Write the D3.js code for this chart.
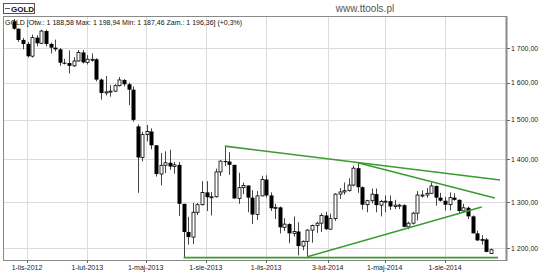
<!DOCTYPE html>
<html>
<head>
<meta charset="utf-8">
<script src="https://cdn.jsdelivr.net/npm/d3@7"></script>
<style>
  body { margin: 0; background: #fff; }
  text { font-family: "Liberation Sans", Arial, sans-serif; }
</style>
</head>
<body>
<svg id="chart"></svg>
<script>
// weekly candles, dated by the friday of each week
const dates = [
  "2012-10-12","2012-10-19","2012-10-26","2012-11-02","2012-11-09","2012-11-16","2012-11-23","2012-11-30","2012-12-07","2012-12-14","2012-12-21","2012-12-28",
  "2013-01-04","2013-01-11","2013-01-18","2013-01-25","2013-02-01","2013-02-08","2013-02-15","2013-02-22","2013-03-01","2013-03-08","2013-03-15","2013-03-22","2013-03-29",
  "2013-04-05","2013-04-12","2013-04-19","2013-04-26","2013-05-03","2013-05-10","2013-05-17","2013-05-24","2013-05-31","2013-06-07","2013-06-14","2013-06-21","2013-06-28",
  "2013-07-05","2013-07-12","2013-07-19","2013-07-26","2013-08-02","2013-08-09","2013-08-16","2013-08-23","2013-08-30","2013-09-06","2013-09-13","2013-09-20","2013-09-27",
  "2013-10-04","2013-10-11","2013-10-18","2013-10-25","2013-11-01","2013-11-08","2013-11-15","2013-11-22","2013-11-29","2013-12-06","2013-12-13","2013-12-20","2013-12-27",
  "2014-01-03","2014-01-10","2014-01-17","2014-01-24","2014-01-31","2014-02-07","2014-02-14","2014-02-21","2014-02-28","2014-03-07","2014-03-14","2014-03-21","2014-03-28",
  "2014-04-04","2014-04-11","2014-04-18","2014-04-25","2014-05-02","2014-05-09","2014-05-16","2014-05-23","2014-05-30","2014-06-06","2014-06-13","2014-06-20","2014-06-27",
  "2014-07-04","2014-07-11","2014-07-18","2014-07-25","2014-08-01","2014-08-08","2014-08-15","2014-08-22","2014-08-29","2014-09-05","2014-09-12","2014-09-19","2014-09-26",
  "2014-10-03","2014-10-10"
];
const open = [
  1781,1758,1724,1712,1676,1731,1714,1751,1712,1701,1696,1657,
  1656,1648,1662,1687,1658,1667,1667,1609,1572,1575,1577,1592,1608,
  1596,1581,1483,1405,1462,1470,1435,1365,1386,1392,1383,1387,1296,
  1234,1223,1277,1294,1322,1311,1312,1370,1396,1395,1387,1308,1333,
  1338,1310,1272,1314,1352,1315,1286,1288,1244,1251,1231,1235,1204,
  1214,1238,1248,1253,1270,1240,1263,1318,1323,1326,1339,1379,1334,
  1294,1303,1318,1293,1301,1302,1290,1293,1293,1245,1253,1275,1316,
  1316,1320,1337,1310,1303,1294,1310,1305,1280,1287,1268,1231,1216,
  1218,1188.58
];
const high = [
  1788,1759,1730,1718,1740,1738,1755,1755,1716,1725,1700,1668,
  1693,1673,1694,1694,1679,1684,1670,1612,1619,1594,1596,1616,1610,
  1600,1590,1488,1469,1487,1478,1436,1416,1420,1424,1394,1394,1296,
  1267,1298,1298,1348,1348,1323,1378,1398,1433,1418,1387,1368,1345,
  1338,1327,1325,1361,1362,1322,1296,1290,1264,1253,1268,1255,1216,
  1240,1250,1256,1275,1278,1274,1320,1332,1345,1355,1385,1392,1336,
  1305,1331,1331,1305,1315,1315,1305,1296,1295,1256,1278,1325,1327,
  1332,1345,1338,1321,1312,1322,1320,1306,1296,1290,1270,1237,1227,
  1221,1198.94
];
const low = [
  1755,1718,1696,1672,1672,1705,1712,1705,1684,1690,1648,1652,
  1626,1645,1660,1655,1652,1660,1604,1554,1565,1562,1575,1590,1590,
  1539,1495,1321,1395,1445,1425,1359,1338,1367,1375,1366,1269,1180,
  1207,1208,1271,1292,1280,1270,1310,1360,1384,1363,1308,1296,1318,
  1277,1251,1260,1313,1310,1280,1262,1231,1236,1210,1224,1185,1195,
  1182,1211,1232,1234,1238,1239,1258,1307,1317,1324,1336,1321,1283,
  1277,1297,1277,1268,1277,1282,1284,1284,1244,1240,1250,1259,1310,
  1310,1319,1292,1301,1281,1281,1303,1273,1276,1262,1231,1215,1207,
  1191,1187.46
];
const close = [
  1758,1724,1712,1676,1731,1714,1751,1712,1701,1696,1657,1656,
  1648,1662,1687,1658,1667,1667,1609,1572,1575,1577,1592,1608,1596,
  1581,1500,1405,1462,1470,1435,1365,1386,1392,1383,1387,1296,1234,
  1223,1277,1294,1322,1311,1312,1370,1396,1395,1387,1308,1333,1338,
  1310,1272,1314,1352,1315,1286,1288,1244,1251,1231,1235,1204,1214,
  1238,1248,1253,1270,1240,1263,1318,1323,1326,1339,1379,1334,1294,
  1303,1318,1293,1301,1302,1290,1293,1293,1245,1253,1275,1316,1316,
  1320,1337,1310,1303,1294,1310,1305,1280,1287,1268,1231,1216,1218,
  1192,1196.36
];

const yTicks = [1200, 1300, 1400, 1500, 1600, 1700];
const xTickDates = ["2012-11-01","2013-02-01","2013-05-01","2013-08-01","2013-11-01","2014-02-03","2014-05-01","2014-08-01"];

// hand drawn trend lines: start [date, price] -> end [date, price]
const trendStart = [["2013-08-30",1433],["2014-03-21",1392],["2014-01-03",1182],["2013-06-28",1180]];
const trendEnd   = [["2014-10-24",1351],["2014-10-16",1309],["2014-09-26",1289],["2014-10-21",1180]];

const width = 550, height = 275;
const boxLeft = 3, boxRight = 506, boxTop = 16, boxBottom = 260;

const parse = d3.utcParse("%Y-%m-%d");
const plLocale = d3.utcFormat ? d3.timeFormatLocale({
  dateTime: "%A, %e %B %Y, %X", date: "%d.%m.%Y", time: "%H:%M:%S",
  periods: ["AM", "PM"],
  days: ["niedziela","poniedziałek","wtorek","środa","czwartek","piątek","sobota"],
  shortDays: ["niedz.","pon.","wt.","śr.","czw.","pt.","sob."],
  months: ["styczeń","luty","marzec","kwiecień","maj","czerwiec","lipiec","sierpień","wrzesień","październik","listopad","grudzień"],
  shortMonths: ["sty","lut","mar","kwi","maj","cze","lip","sie","wrz","paź","lis","gru"]
}) : null;
const fmtDate = plLocale.utcFormat("%-d-%b-%Y");
const numLocale = d3.formatLocale({decimal: ",", thousands: " ", grouping: [3], currency: ["", ""]});
const fmtNum = numLocale.format(",.2f");

const x = d3.scaleUtc()
  .domain([parse("2012-11-01"), parse("2014-08-01")])
  .range([27, 445]);
const y = d3.scaleLog()
  .domain([1200, 1700])
  .range([248, 48]);

const svg = d3.select('#chart')
  .attr('width', width)
  .attr('height', height)
  .style('display', 'block');

svg.append('rect').attr('width', width).attr('height', height).attr('fill', '#fff');

// grid
svg.append('g').selectAll('line.h')
  .data(yTicks)
  .join('line')
  .attr('x1', boxLeft).attr('x2', boxRight)
  .attr('y1', d => Math.round(y(d)) + 0.5).attr('y2', d => Math.round(y(d)) + 0.5)
  .attr('stroke', '#dcdcdc');
svg.append('g').selectAll('line.v')
  .data(xTickDates)
  .join('line')
  .attr('x1', d => Math.round(x(parse(d))) + 0.5).attr('x2', d => Math.round(x(parse(d))) + 0.5)
  .attr('y1', boxTop).attr('y2', boxBottom)
  .attr('stroke', '#dcdcdc');

// box
svg.append('rect')
  .attr('x', boxLeft + 0.5).attr('y', boxTop + 0.5)
  .attr('width', boxRight - boxLeft).attr('height', boxBottom - boxTop)
  .attr('fill', 'none').attr('stroke', '#8a8a8a');
svg.append('line')
  .attr('x1', boxRight + 0.5).attr('x2', boxRight + 0.5)
  .attr('y1', boxTop).attr('y2', boxBottom + 1)
  .attr('stroke', '#8a8a8a').attr('stroke-width', 2);

// y axis on the right
const yAxis = svg.append('g');
yAxis.selectAll('line')
  .data(yTicks)
  .join('line')
  .attr('x1', boxRight + 1).attr('x2', boxRight + 4)
  .attr('y1', d => Math.round(y(d)) + 0.5).attr('y2', d => Math.round(y(d)) + 0.5)
  .attr('stroke', '#666');
yAxis.selectAll('text')
  .data(yTicks)
  .join('text')
  .attr('x', boxRight + 5)
  .attr('y', d => y(d) + 2.5)
  .attr('font-size', '7px')
  .attr('fill', '#222')
  .text(d => fmtNum(d));

// x axis
const xAxis = svg.append('g');
xAxis.selectAll('line')
  .data(xTickDates)
  .join('line')
  .attr('x1', d => Math.round(x(parse(d))) + 0.5).attr('x2', d => Math.round(x(parse(d))) + 0.5)
  .attr('y1', boxBottom).attr('y2', boxBottom + 3)
  .attr('stroke', '#666');
xAxis.selectAll('text')
  .data(xTickDates)
  .join('text')
  .attr('x', d => x(parse(d)))
  .attr('y', boxBottom + 10)
  .attr('text-anchor', 'middle')
  .attr('font-size', '7px')
  .attr('fill', '#222')
  .text(d => fmtDate(parse(d)));

// candles
const data = dates.map((d, i) => ({date: parse(d), o: open[i], h: high[i], l: low[i], c: close[i]}));
const candles = svg.append('g');
candles.selectAll('line')
  .data(data)
  .join('line')
  .attr('x1', d => Math.round(x(d.date)) + 0.5).attr('x2', d => Math.round(x(d.date)) + 0.5)
  .attr('y1', d => y(d.h)).attr('y2', d => y(d.l))
  .attr('stroke', '#444');
candles.selectAll('rect')
  .data(data)
  .join('rect')
  .attr('x', d => Math.round(x(d.date)) - 1 + (d.c >= d.o ? 0 : -0.5))
  .attr('y', d => y(Math.max(d.o, d.c)) + (d.c >= d.o ? 0 : 0))
  .attr('width', d => d.c >= d.o ? 3 : 4)
  .attr('height', d => Math.max(1, y(Math.min(d.o, d.c)) - y(Math.max(d.o, d.c))))
  .attr('fill', d => d.c >= d.o ? '#fff' : '#000')
  .attr('stroke', d => d.c >= d.o ? '#000' : 'none')
  .attr('stroke-width', 0.8);

// trend lines
svg.append('g').selectAll('line')
  .data(trendStart.map((s, i) => [s, trendEnd[i]]))
  .join('line')
  .attr('x1', d => x(parse(d[0][0]))).attr('y1', d => y(d[0][1]))
  .attr('x2', d => x(parse(d[1][0]))).attr('y2', d => y(d[1][1]))
  .attr('stroke', '#3a9b2f')
  .attr('stroke-width', 1.6);

// header
svg.append('rect')
  .attr('x', 3.5).attr('y', 3.5).attr('width', 31).attr('height', 10)
  .attr('fill', '#fff').attr('stroke', '#555');
svg.append('line')
  .attr('x1', 5).attr('x2', 10).attr('y1', 8.5).attr('y2', 8.5)
  .attr('stroke', '#555');
svg.append('text')
  .attr('x', 11).attr('y', 11.5)
  .attr('font-size', '8px').attr('font-weight', 'bold').attr('fill', '#111')
  .text('GOLD');
svg.append('text')
  .attr('x', 365).attr('y', 12)
  .attr('text-anchor', 'middle')
  .attr('font-size', '10px').attr('fill', '#555')
  .text('www.ttools.pl');
svg.append('text')
  .attr('x', 5).attr('y', 25)
  .attr('font-size', '7px').attr('fill', '#111')
  .text('GOLD [Otw.: 1 188,58  Max: 1 198,94  Min: 1 187,46  Zam.: 1 196,36] (+0,3%)');
</script>
</body>
</html>
